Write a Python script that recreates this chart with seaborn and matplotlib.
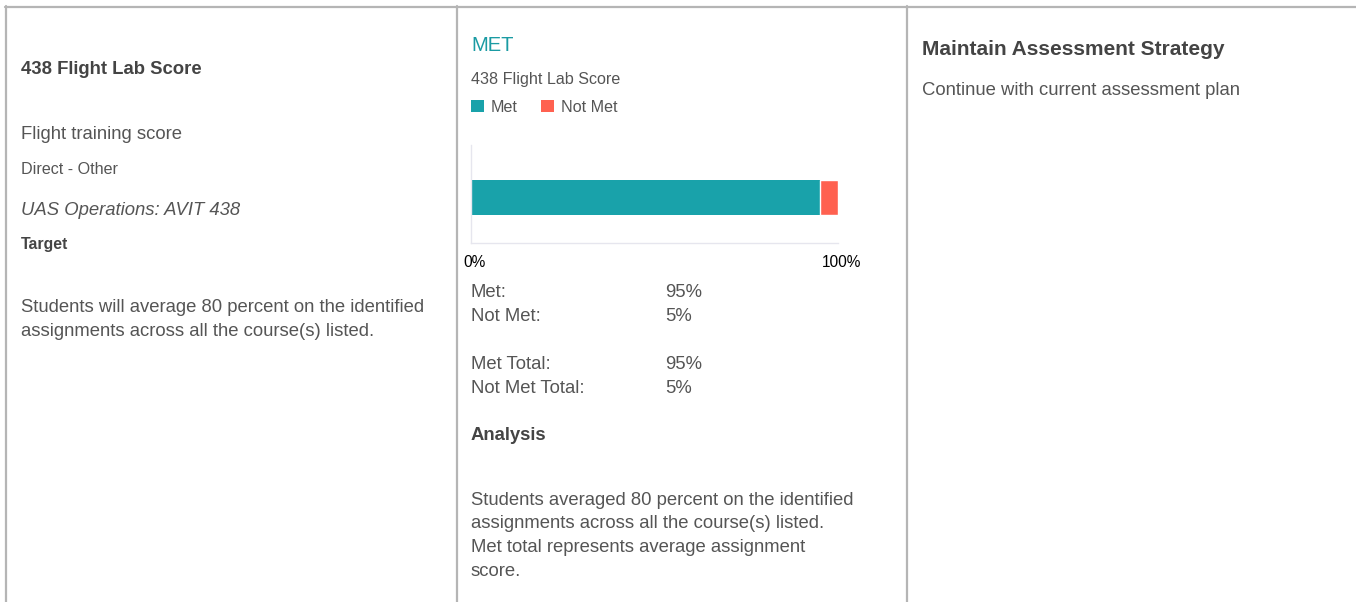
import numpy as np
import pandas as pd
import matplotlib
matplotlib.use('Agg')
import matplotlib.pyplot as plt
from matplotlib.lines import Line2D
from matplotlib.patches import Patch
from matplotlib.transforms import ScaledTranslation
import seaborn as sns

# --- chart data ---
categories = ['Met', 'Not Met']
percentages = [95, 5]
bar_label = '438 Flight Lab Score'
tick_values = [0, 100]
tick_labels = ['0%', '100%']
colors = ['#19a2aa', '#ff6150']

summary_labels = ['Met:', 'Not Met:', 'Met Total:', 'Not Met Total:']
summary_values = ['95%', '5%', '95%', '5%']

target_lines = ['Students will average 80 percent on the identified',
                'assignments across all the course(s) listed.']
analysis_lines = ['Students averaged 80 percent on the identified',
                  'assignments across all the course(s) listed.',
                  'Met total represents average assignment',
                  'score.']

W, H = 1356, 602
DARK = '#444444'
BODY = '#555555'

sns.set_style('white')
plt.rcParams['font.family'] = ['Liberation Sans', 'DejaVu Sans']

fig = plt.figure(figsize=(W / 100, H / 100), dpi=100)


def fx(x):
    return x / W


def fy(y):
    return 1 - y / H


def txt(x, y, s, size, color=BODY, weight='normal', style='normal'):
    fig.text(fx(x), fy(y), s, fontsize=size, color=color, fontweight=weight,
             fontstyle=style, ha='left', va='baseline')


# --- table borders ---
border = '#b5b5b5'
fig.add_artist(Line2D([fx(5), fx(W)], [fy(6.5), fy(6.5)], transform=fig.transFigure, color=border, lw=1.6))
for xb in [6, 456.5, 906.5]:
    fig.add_artist(Line2D([fx(xb), fx(xb)], [fy(6), fy(H)], transform=fig.transFigure, color=border, lw=1.6))

# --- left column ---
txt(21, 74, '438 Flight Lab Score', 13.3, DARK, 'bold')
txt(21, 139, 'Flight training score', 13.3)
txt(21, 174, 'Direct - Other', 11.6)
txt(21, 215, 'UAS Operations: AVIT 438', 13.3, style='italic')
txt(21, 249.5, 'Target', 11.4, DARK, 'bold')
for i, line in enumerate(target_lines):
    txt(21, 311.5 + 24 * i, line, 13.3)

# --- middle column ---
txt(471, 51, 'MET', 14.5, '#1a9ba3')
txt(471, 84, bar_label, 11.6)

ax = fig.add_axes([fx(471), fy(243), (838 - 471) / W, (243 - 145) / H])
df = pd.DataFrame({'label': [bar_label] * len(categories), 'status': categories, 'pct': percentages})
df['start'] = df['pct'].cumsum() - df['pct']
# stacked segments: each one starts where the previous one ended
for i in range(len(df)):
    sns.barplot(data=df.iloc[[i]], x='pct', y='label', color=colors[i], orient='h',
                width=0.8, saturation=1, left=df['start'].iloc[i],
                edgecolor='white', linewidth=1.0 if i > 0 else 0, ax=ax)
ax.set_xlim(0, 100)
ax.set_ylim(1.04, -1.2)
ax.set_yticks([])
ax.set_xlabel('')
ax.set_ylabel('')
ax.set_xticks(tick_values, tick_labels)
ax.tick_params(axis='x', direction='in', length=5, color='#e6e6ee', labelsize=11.2,
               labelcolor='black', pad=9)
shift = ScaledTranslation(4 / 100, 0, fig.dpi_scale_trans)
for lbl in ax.get_xticklabels():
    lbl.set_transform(lbl.get_transform() + shift)
for side in ['top', 'right']:
    ax.spines[side].set_visible(False)
for side in ['left', 'bottom']:
    ax.spines[side].set_color('#e6e6ee')
    ax.spines[side].set_linewidth(1)

handles = [Patch(facecolor=c, edgecolor='none') for c in colors]
fig.legend(handles, categories, loc='center left', bbox_to_anchor=(fx(471), fy(107)),
           ncol=2, frameon=False, fontsize=11.6, labelcolor=BODY,
           handlelength=0.8, handleheight=0.8, handletextpad=0.4, columnspacing=1.5,
           borderpad=0, borderaxespad=0)

for i, (lab, val) in enumerate(zip(summary_labels, summary_values)):
    yb = 297 + 24 * i + (24 if i >= 2 else 0)
    txt(471, yb, lab, 13.3)
    txt(665, yb, val, 13.3)

txt(471, 440, 'Analysis', 13.3, DARK, 'bold')
for i, line in enumerate(analysis_lines):
    txt(471, 505 + 23.5 * i, line, 13.3)

# --- right column ---
txt(922, 55, 'Maintain Assessment Strategy', 15, DARK, 'bold')
txt(922, 95, 'Continue with current assessment plan', 13.3)

fig.savefig('out.png', dpi=100)
